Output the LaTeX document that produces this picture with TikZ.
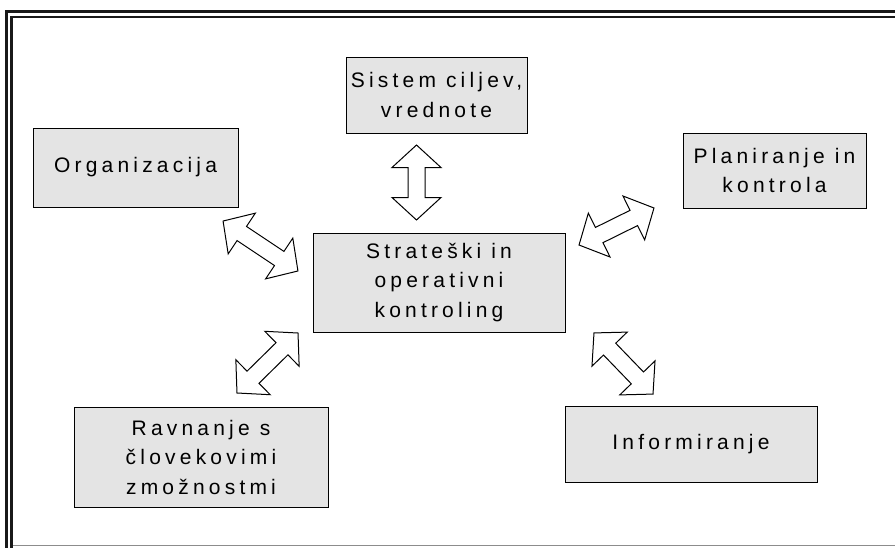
\documentclass[tikz,border=0pt]{standalone}
\usepackage{fontspec}
\setmainfont{Liberation Sans}[LetterSpace=20]
\begin{document}
\begin{tikzpicture}[x=1pt,y=-1pt,
  box/.style={draw=black,line width=1pt,fill=boxgray,inner sep=0pt,align=center,
    font=\fontsize{21}{29.5}\selectfont},
  pics/dblarrow/.style={code={
    \draw[line width=1pt,fill=white,line join=miter]
      (-#1,0) -- (-#1+22.5,-24.5) -- (-#1+22.5,-8.5) -- (#1-22.5,-8.5) -- (#1-22.5,-24.5)
      -- (#1,0) -- (#1-22.5,24.5) -- (#1-22.5,8.5) -- (-#1+22.5,8.5) -- (-#1+22.5,24.5) -- cycle;}}
]
\definecolor{boxgray}{HTML}{E4E4E4}
\useasboundingbox (0,0) rectangle (895,547);
\clip (0,0) rectangle (895,547);
\fill[white] (0,0) rectangle (895,547);
% frame
\draw[line width=2.7pt,color=black!90] (6.5,560) -- (6.5,11.5) -- (900,11.5);
\draw[line width=2.7pt,color=black!90] (11.5,560) -- (11.5,17) -- (900,17);
\draw[line width=1.2pt,color=black!45] (13,545.5) -- (900,545.5);
% boxes
\node[box,minimum width=181pt,minimum height=76pt] (sistem) at (436.5,95) {Sistem ciljev,\\vrednote};
\node[box,minimum width=205pt,minimum height=79pt] (org) at (135.5,167.5) {Organizacija};
\node[box,minimum width=183pt,minimum height=75pt] (plan) at (774.5,170.5) {Planiranje in\\kontrola};
\node[box,minimum width=252pt,minimum height=99pt] (center) at (439,282.5) {Strateški in\\operativni\\kontroling};
\node[box,minimum width=254pt,minimum height=100pt] (rav) at (201,457) {Ravnanje s\\človekovimi\\zmožnostmi};
\node[box,minimum width=252pt,minimum height=76pt] (inf) at (691,444) {Informiranje};
% double arrows
\pic[rotate=90] (a1) at (416.5,182.5) {dblarrow=37.5};
\pic[rotate=-33.7] (a2) at (260.5,246) {dblarrow=45};
\pic[rotate=26.3] (a3) at (616.5,226.5) {dblarrow=41.8};
\pic[rotate=44.5] (a4) at (267.5,363) {dblarrow=42.8};
\pic[rotate=-46] (a5) at (623.5,363.5) {dblarrow=42.5};
\end{tikzpicture}
\end{document}
